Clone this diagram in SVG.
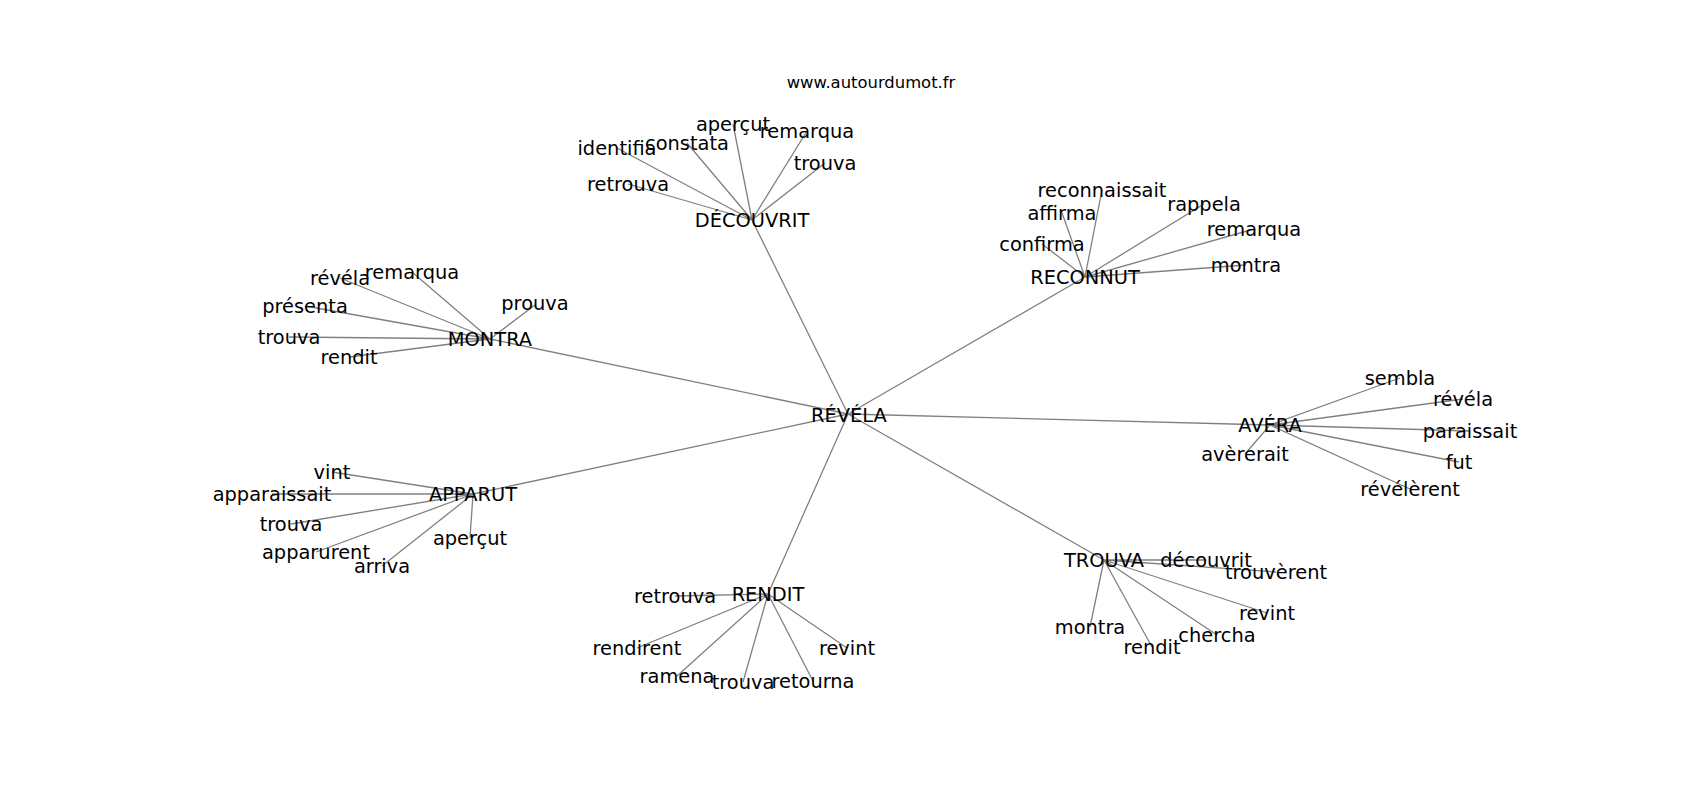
<svg xmlns="http://www.w3.org/2000/svg" width="1700" height="800" viewBox="0 0 1700 800">
<style>
.e{stroke:#808080;stroke-width:1.3;fill:none}
.t{font-family:"DejaVu Sans",sans-serif;font-size:19.4px;fill:#000;text-anchor:middle}
.ttl{font-family:"DejaVu Sans",sans-serif;font-size:16.4px;fill:#000;text-anchor:middle}
</style>
<rect width="1700" height="800" fill="#fff"/>
<text class="ttl" x="871" y="88">www.autourdumot.fr</text>
<g id="edges">
<path class="e" d="M848,414L752,220M848,414L1085,277M848,414L490,339M848,414L1270,425M848,414L473,494M848,414L768,594M848,414L1104,560"/>
<path class="e" d="M752,220L733,124M752,220L807,131M752,220L617,148M752,220L687,143M752,220L825,163M752,220L628,184"/>
<path class="e" d="M1085,277L1102,190M1085,277L1062,213M1085,277L1204,204M1085,277L1254,229M1085,277L1042,244M1085,277L1246,265"/>
<path class="e" d="M490,339L340,278M490,339L412,272M490,339L305,306M490,339L535,305M490,339L289,337M490,339L349,357"/>
<path class="e" d="M473,494L332,472M473,494L272,494M473,494L291,524M473,494L470,538M473,494L316,552M473,494L382,566"/>
<path class="e" d="M768,594L675,596M768,594L637,648M768,594L847,648M768,594L677,676M768,594L743,682M768,594L813,681"/>
<path class="e" d="M1104,560L1206,560M1104,560L1276,572M1104,560L1267,613M1104,560L1090,627M1104,560L1217,635M1104,560L1152,647"/>
<path class="e" d="M1270,425L1400,378M1270,425L1463,399M1270,425L1470,431M1270,425L1245,454M1270,425L1459,462M1270,425L1410,489"/>
</g>
<g id="n-revela"><text class="t" x="849" y="422">RÉVÉLA</text></g>
<g id="n-decouvrit"><text class="t" x="752" y="227">DÉCOUVRIT</text></g>
<g id="n-d-apercut"><text class="t" x="733" y="131">aperçut</text></g>
<g id="n-d-remarqua"><text class="t" x="807" y="138">remarqua</text></g>
<g id="n-d-identifia"><text class="t" x="617" y="155">identifia</text></g>
<g id="n-d-constata"><text class="t" x="687" y="150">constata</text></g>
<g id="n-d-trouva"><text class="t" x="825" y="170">trouva</text></g>
<g id="n-d-retrouva"><text class="t" x="628" y="191">retrouva</text></g>
<g id="n-reconnut"><text class="t" x="1085" y="284">RECONNUT</text></g>
<g id="n-r-reconnaissait"><text class="t" x="1102" y="197">reconnaissait</text></g>
<g id="n-r-affirma"><text class="t" x="1062" y="220">affirma</text></g>
<g id="n-r-rappela"><text class="t" x="1204" y="211">rappela</text></g>
<g id="n-r-remarqua"><text class="t" x="1254" y="236">remarqua</text></g>
<g id="n-r-confirma"><text class="t" x="1042" y="251">confirma</text></g>
<g id="n-r-montra"><text class="t" x="1246" y="272">montra</text></g>
<g id="n-montra"><text class="t" x="490" y="346">MONTRA</text></g>
<g id="n-m-revela"><text class="t" x="340" y="285">révéla</text></g>
<g id="n-m-remarqua"><text class="t" x="412" y="279">remarqua</text></g>
<g id="n-m-presenta"><text class="t" x="305" y="313">présenta</text></g>
<g id="n-m-prouva"><text class="t" x="535" y="310">prouva</text></g>
<g id="n-m-trouva"><text class="t" x="289" y="344">trouva</text></g>
<g id="n-m-rendit"><text class="t" x="349" y="364">rendit</text></g>
<g id="n-apparut"><text class="t" x="473" y="501">APPARUT</text></g>
<g id="n-a-vint"><text class="t" x="332" y="479">vint</text></g>
<g id="n-a-apparaissait"><text class="t" x="272" y="501">apparaissait</text></g>
<g id="n-a-trouva"><text class="t" x="291" y="531">trouva</text></g>
<g id="n-a-apercut"><text class="t" x="470" y="545">aperçut</text></g>
<g id="n-a-apparurent"><text class="t" x="316" y="559">apparurent</text></g>
<g id="n-a-arriva"><text class="t" x="382" y="573">arriva</text></g>
<g id="n-rendit"><text class="t" x="768" y="601">RENDIT</text></g>
<g id="n-rd-retrouva"><text class="t" x="675" y="603">retrouva</text></g>
<g id="n-rd-rendirent"><text class="t" x="637" y="655">rendirent</text></g>
<g id="n-rd-revint"><text class="t" x="847" y="655">revint</text></g>
<g id="n-rd-ramena"><text class="t" x="677" y="683">ramena</text></g>
<g id="n-rd-trouva"><text class="t" x="743" y="689">trouva</text></g>
<g id="n-rd-retourna"><text class="t" x="813" y="688">retourna</text></g>
<g id="n-trouva"><text class="t" x="1104" y="567">TROUVA</text></g>
<g id="n-t-decouvrit"><text class="t" x="1206" y="567">découvrit</text></g>
<g id="n-t-trouverent"><text class="t" x="1276" y="579">trouvèrent</text></g>
<g id="n-t-revint"><text class="t" x="1267" y="620">revint</text></g>
<g id="n-t-montra"><text class="t" x="1090" y="634">montra</text></g>
<g id="n-t-chercha"><text class="t" x="1217" y="642">chercha</text></g>
<g id="n-t-rendit"><text class="t" x="1152" y="654">rendit</text></g>
<g id="n-avera"><text class="t" x="1270" y="432">AVÉRA</text></g>
<g id="n-v-sembla"><text class="t" x="1400" y="385">sembla</text></g>
<g id="n-v-revela"><text class="t" x="1463" y="406">révéla</text></g>
<g id="n-v-paraissait"><text class="t" x="1470" y="438">paraissait</text></g>
<g id="n-v-avererait"><text class="t" x="1245" y="461">avèrerait</text></g>
<g id="n-v-fut"><text class="t" x="1459" y="469">fut</text></g>
<g id="n-v-revelerent"><text class="t" x="1410" y="496">révélèrent</text></g>
</svg>
